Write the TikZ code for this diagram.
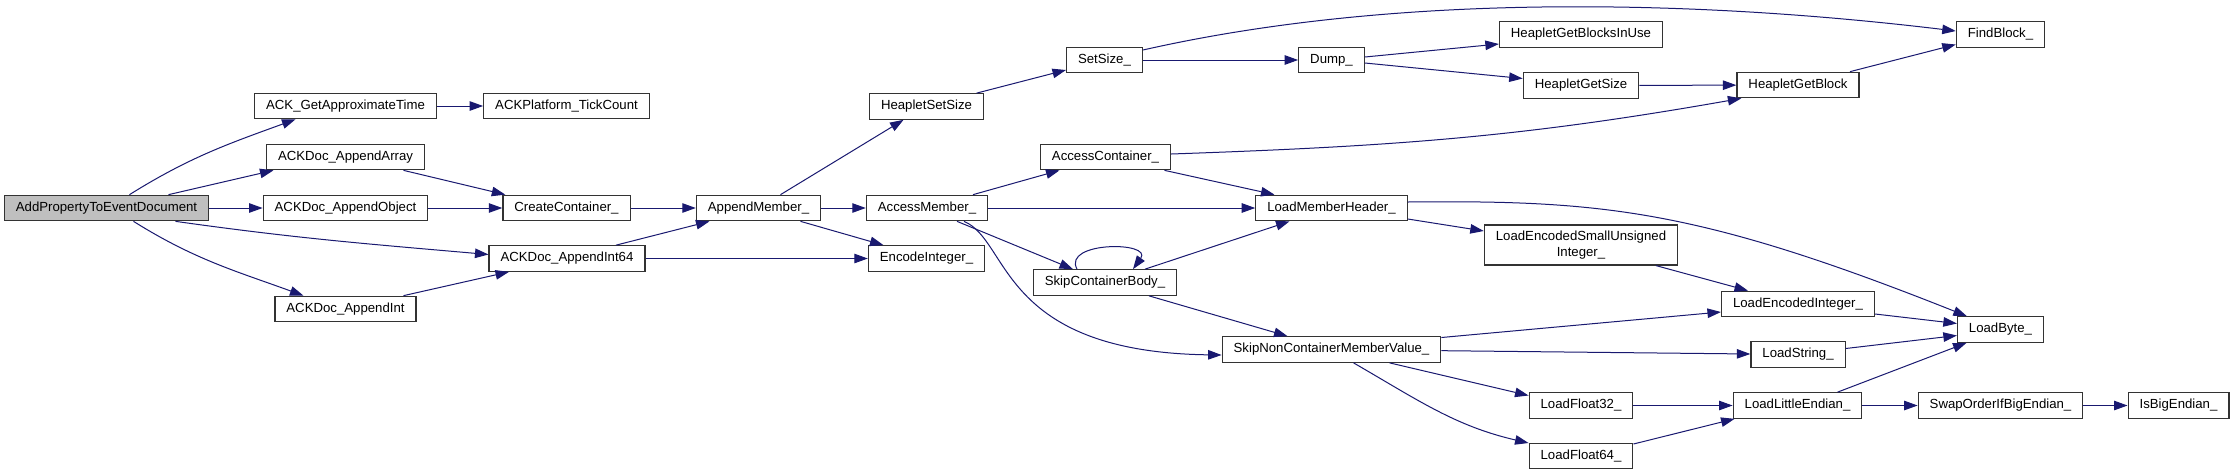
\documentclass[tikz,border=0pt]{standalone}
\usepackage{fontspec}
\setmainfont{Liberation Sans}
\usetikzlibrary{arrows.meta}
\definecolor{callblue}{HTML}{191970}
\definecolor{rootgray}{HTML}{BFBFBF}
\definecolor{boxline}{HTML}{333333}

\begin{document}
\begin{tikzpicture}[x=1pt, y=1pt, >={Triangle[length=13.5pt, width=9.5pt]},
	fnbox/.style={draw=boxline, line width=1.2pt, fill=white, inner xsep=11.5pt, inner ysep=0pt, minimum height=25.5pt, text height=9.6pt, text depth=2.9pt, font=\fontsize{13.2}{15.2}\selectfont},
	rootbox/.style={fnbox, fill=rootgray},
	callarrow/.style={->, draw=callblue, line width=1pt}]
	\useasboundingbox (0,0) rectangle (2233,-475);
	\fill[white] (0,0) rectangle (2233,-475);
	\node[rootbox] (add) at (106.5,-208) {AddPropertyToEventDocument};
	\node[fnbox] (gettime) at (345.5,-106) {ACK\_GetApproximateTime};
	\node[fnbox] (tick) at (566.5,-106) {ACKPlatform\_TickCount};
	\node[fnbox] (apparray) at (345.5,-157) {ACKDoc\_AppendArray};
	\node[fnbox] (appobj) at (345.5,-208) {ACKDoc\_AppendObject};
	\node[fnbox] (appint) at (345.5,-309) {ACKDoc\_AppendInt};
	\node[fnbox] (create) at (566.5,-208) {CreateContainer\_};
	\node[fnbox] (appint64) at (567,-258.5) {ACKDoc\_AppendInt64};
	\node[fnbox] (appmember) at (758.5,-208) {AppendMember\_};
	\node[fnbox] (hsetsize) at (926.5,-106.5) {HeapletSetSize};
	\node[fnbox] (accmember) at (927,-208) {AccessMember\_};
	\node[fnbox] (encint) at (926.5,-258.5) {EncodeInteger\_};
	\node[fnbox] (setsize) at (1104.5,-60) {SetSize\_};
	\node[fnbox] (acccont) at (1105.5,-157) {AccessContainer\_};
	\node[fnbox] (skipbody) at (1105,-282.5) {SkipContainerBody\_};
	\node[fnbox] (dump) at (1331.5,-60) {Dump\_};
	\node[fnbox] (lmh) at (1331.5,-208) {LoadMemberHeader\_};
	\node[fnbox] (sncmv) at (1331.5,-349.5) {SkipNonContainerMemberValue\_};
	\node[fnbox] (blocksinuse) at (1581,-34.5) {HeapletGetBlocksInUse};
	\node[fnbox] (getsize) at (1581,-85.5) {HeapletGetSize};
	\node[fnbox, minimum height=40pt, align=center, text height=, text depth=] (lesui) at (1581,-245) {LoadEncodedSmallUnsigned\\Integer\_};
	\node[fnbox] (lf32) at (1581,-405.5) {LoadFloat32\_};
	\node[fnbox] (lf64) at (1581,-456) {LoadFloat64\_};
	\node[fnbox] (getblock) at (1798,-85) {HeapletGetBlock};
	\node[fnbox] (lei) at (1798,-304) {LoadEncodedInteger\_};
	\node[fnbox] (lstring) at (1798,-354.5) {LoadString\_};
	\node[fnbox] (lle) at (1797.5,-405.5) {LoadLittleEndian\_};
	\node[fnbox] (findblock) at (2000.5,-34.5) {FindBlock\_};
	\node[fnbox] (loadbyte) at (2000.5,-329.5) {LoadByte\_};
	\node[fnbox] (swap) at (2000.5,-405.5) {SwapOrderIfBigEndian\_};
	\node[fnbox] (isbig) at (2178.5,-405.5) {IsBigEndian\_};
	\foreach \a/\b in {add/appobj, gettime/tick, appobj/create, create/appmember, appint64/encint, appmember/accmember, accmember/lmh, setsize/dump, getsize/getblock, sncmv/lstring, lf32/lle, lle/swap, swap/isbig} {\draw[callarrow] (\a) -- (\b);}
	\draw[callarrow] ([xshift=23pt]add.north) to[out=32, in=200] ([xshift=-50pt]gettime.south);
	\draw[callarrow] ([xshift=62pt]add.north) -- ([xshift=-72pt]apparray.south);
	\draw[callarrow] ([xshift=69pt]add.south) to[out=-8, in=175] ([yshift=4pt]appint64.west);
	\draw[callarrow] ([xshift=27pt]add.south) to[out=-32, in=160] ([xshift=-42pt]appint.north);
	\draw[callarrow] ([xshift=58pt]apparray.south) -- ([xshift=3pt]create.north west);
	\draw[callarrow] ([xshift=49pt]appint64.north) -- ([xshift=-49pt]appmember.south);
	\draw[callarrow] ([xshift=58pt]appint.north) -- ([xshift=-58pt]appint64.south);
	\draw[callarrow] ([xshift=22pt]appmember.north) -- ([xshift=-23pt]hsetsize.south);
	\draw[callarrow] ([xshift=42pt]appmember.south) -- ([xshift=-43pt]encint.north);
	\draw[callarrow] ([xshift=50pt]hsetsize.north) -- ([yshift=-10pt]setsize.west);
	\draw[callarrow] ([yshift=10pt]setsize.east) .. controls +(256,58) and +(-257,31) .. ([yshift=3.5pt]findblock.west);
	\draw[callarrow] ([yshift=3pt]dump.east) -- ([yshift=-9.5pt]blocksinuse.west);
	\draw[callarrow] ([yshift=-3pt]dump.east) -- ([yshift=7pt]getsize.west);
	\draw[callarrow] ([xshift=52pt]getblock.north) -- ([yshift=-10pt]findblock.west);
	\draw[callarrow] ([yshift=3pt]acccont.east) to[out=2, in=190] ([xshift=5pt]getblock.south west);
	\draw[callarrow] ([xshift=46pt]accmember.north) -- ([xshift=-46pt]acccont.south);
	\draw[callarrow] ([xshift=30pt]accmember.south) -- ([xshift=-32pt]skipbody.north);
	\draw[callarrow] ([xshift=37pt]accmember.south) .. controls +(46,-19) and +(-223,3) .. ([yshift=-5.5pt]sncmv.west);
	\draw[callarrow] ([xshift=-28pt]skipbody.north) .. controls +(-15,28) and +(20,28) .. ([xshift=28pt]skipbody.north);
	\draw[callarrow] ([xshift=40pt]skipbody.north) -- ([xshift=-42pt]lmh.south);
	\draw[callarrow] ([xshift=44pt]skipbody.south) -- ([xshift=-44pt]sncmv.north);
	\draw[callarrow] ([xshift=59pt]acccont.south) -- ([xshift=-57pt]lmh.north);
	\draw[callarrow] ([yshift=6pt]lmh.east) .. controls +(195,2) and +(-268,106.7) .. ([xshift=10pt]loadbyte.north west);
	\draw[callarrow] ([yshift=-11pt]lmh.east) -- ([yshift=14pt]lesui.west);
	\draw[callarrow] ([xshift=75pt]lesui.south) -- ([xshift=-50pt]lei.north);
	\draw[callarrow] ([yshift=12pt]sncmv.east) -- ([yshift=-8pt]lei.west);
	\draw[callarrow] ([xshift=58pt]sncmv.south) -- ([yshift=10pt]lf32.west);
	\draw[callarrow] ([xshift=22pt]sncmv.south) to[out=-30, in=167] ([yshift=13pt]lf64.west);
	\draw[callarrow] ([yshift=12pt]lf64.east) -- ([xshift=2pt]lle.south west);
	\draw[callarrow] ([yshift=-10pt]lei.east) -- ([yshift=6pt]loadbyte.west);
	\draw[callarrow] ([yshift=6pt]lstring.east) -- ([yshift=-6pt]loadbyte.west);
	\draw[callarrow] ([xshift=40pt]lle.north) -- ([xshift=-34pt]loadbyte.south);
\end{tikzpicture}
\end{document}
